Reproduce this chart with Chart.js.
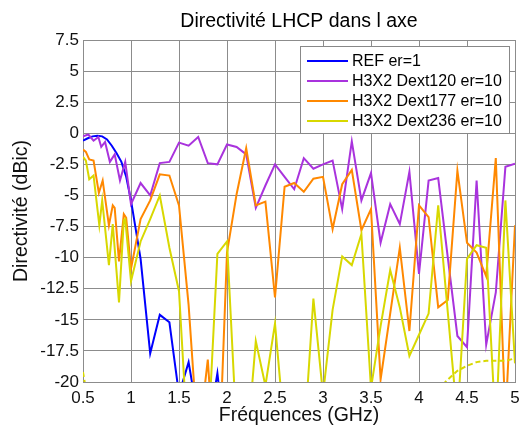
<!DOCTYPE html>
<html><head><meta charset="utf-8">
<script src="https://cdn.jsdelivr.net/npm/chart.js@4/dist/chart.umd.min.js"></script>
<style>html,body{margin:0;padding:0;background:#fff;}#wrap{width:519px;height:427px;}</style>
</head><body><div id="wrap"><canvas id="c" width="519" height="427"></canvas></div>
<script>
const titleText = 'Directivité LHCP dans l axe';
const xTitle = 'Fréquences (GHz)';
const yTitle = 'Directivité (dBic)';
const seriesNames = ['REF er=1', 'H3X2 Dext120 er=10', 'H3X2 Dext177 er=10', 'H3X2 Dext236 er=10'];
const seriesColors = ['#0000ff', '#a933dd', '#ff8800', '#d8d800'];
const xTicks = [0.5, 1, 1.5, 2, 2.5, 3, 3.5, 4, 4.5, 5];
const yTicks = [7.5, 5, 2.5, 0, -2.5, -5, -7.5, -10, -12.5, -15, -17.5, -20];

const refFreq = [0.5,0.55,0.6,0.65,0.7,0.75,0.8,0.85,0.9,0.95,1.0,1.1,1.2,1.3,1.4,1.5,1.6,1.7,1.8,1.9,2.0];
const refVals = [-0.6,-0.4,-0.25,-0.2,-0.25,-0.5,-1.0,-1.6,-2.3,-3.5,-5.4,-10.1,-17.7,-14.6,-15.2,-21,-18.4,-23,-24,-19.3,-26];

const d120Freq = [0.5,0.555,0.61,0.66,0.69,0.73,0.78,0.83,0.885,0.94,1.0,1.1,1.2,1.3,1.4,1.5,1.6,1.7,1.8,1.9,2.0,2.1,2.2,2.3,2.4,2.5,2.6,2.7,2.8,2.9,3.0,3.1,3.2,3.3,3.4,3.5,3.6,3.7,3.8,3.9,4.0,4.1,4.2,4.3,4.4,4.5,4.6,4.7,4.8,4.9,5.0];
const d120Vals = [-0.25,-0.1,-0.6,-0.3,-1.1,-0.7,-2.3,-1.7,-3.8,-2.3,-5.7,-4.0,-5.0,-2.4,-2.3,-0.75,-1.0,-0.3,-2.4,-2.5,-0.9,-1.1,-1.7,-6.0,-4.2,-2.5,-3.5,-4.5,-2.0,-2.85,-2.5,-2.2,-6.1,-0.65,-5.4,-3.2,-8.8,-5.7,-7.3,-3.1,-11.3,-3.8,-3.6,-10.0,-16.3,-17.2,-3.8,-17.0,-12.8,-2.7,-2.45];

const d177Freq = [0.5,0.53,0.565,0.61,0.665,0.705,0.77,0.81,0.83,0.875,0.925,0.95,1.0,1.1,1.2,1.3,1.4,1.5,1.6,1.7,1.8,1.9,2.0,2.1,2.2,2.3,2.4,2.5,2.6,2.7,2.8,2.9,3.0,3.1,3.2,3.3,3.4,3.5,3.6,3.7,3.8,3.9,4.0,4.1,4.2,4.3,4.4,4.5,4.6,4.7,4.8,4.9,5.0];
const d177Vals = [-1.3,-1.5,-2.1,-2.2,-4.8,-3.8,-7.4,-5.8,-6.0,-10.3,-6.5,-6.8,-10.9,-6.9,-5.4,-3.3,-3.4,-5.8,-13.8,-25,-18.2,-30,-9.6,-4.9,-1.2,-5.8,-5.5,-13.2,-4.3,-4.0,-4.7,-3.65,-3.5,-7.7,-4.1,-2.95,-7.8,-6.1,-19.8,-14.5,-9.2,-15.9,-5.8,-6.75,-14.0,-13.4,-3.0,-8.8,-9.6,-11.5,-2.0,-23,-7.4];

const d236Freq = [0.5,0.53,0.565,0.61,0.67,0.7,0.77,0.81,0.875,0.925,0.94,1.0,1.1,1.2,1.3,1.4,1.5,1.6,1.7,1.8,1.9,2.0,2.1,2.2,2.3,2.4,2.5,2.6,2.7,2.8,2.9,3.0,3.1,3.2,3.3,3.4,3.5,3.6,3.7,3.8,3.9,4.0,4.1,4.2,4.3,4.4,4.5,4.6,4.7,4.8,4.9,5.0];
const d236Vals = [-1.9,-2.2,-3.7,-3.4,-7.4,-5.4,-10.6,-7.3,-13.6,-7.0,-6.9,-11.9,-8.7,-6.9,-5.0,-9.2,-12.7,-26,-28,-25,-9.7,-8.7,-24,-26,-16.7,-20.3,-15.3,-24,-26,-25,-13.3,-21,-14.2,-9.9,-10.6,-8.1,-20.5,-15.5,-11.0,-14.0,-17.9,-16.2,-14.5,-5.8,-14.4,-23,-10.1,-9.0,-9.2,-24,-5.4,-18.5];

const dashFreq = [0.5,0.55,0.6,4.1,4.2,4.3,4.4,4.5,4.6,4.7,4.8,4.9,5.0];
const dashVals = [-19.2,-21.5,-24,-22,-20.6,-19.8,-19.1,-18.7,-18.4,-18.3,-18.3,-18.3,-18.1];

function pts(f, v) { return f.map((x, i) => ({x: x, y: v[i]})); }

const FONT = '"Liberation Sans", Arial, Helvetica, sans-serif';

const overlay = {
  id: 'overlay',
  afterDraw(chart) {
    const ctx = chart.ctx;
    const ca = chart.chartArea;
    ctx.save();
    ctx.fillStyle = '#000';
    ctx.font = '19.5px ' + FONT;
    ctx.textAlign = 'center';
    ctx.textBaseline = 'alphabetic';
    ctx.fillText(titleText, (ca.left + ca.right) / 2, 27);
    const bx = 300.5, by = 46.5, bw = 209, bh = 87;
    ctx.fillStyle = '#fff';
    ctx.fillRect(bx, by, bw, bh);
    ctx.strokeStyle = '#888';
    ctx.lineWidth = 1;
    ctx.strokeRect(bx, by, bw, bh);
    ctx.font = '16px ' + FONT;
    ctx.textAlign = 'left';
    ctx.textBaseline = 'middle';
    for (let i = 0; i < seriesNames.length; i++) {
      const yy = 61 + i * 20;
      ctx.strokeStyle = seriesColors[i];
      ctx.lineWidth = 2;
      ctx.beginPath();
      ctx.moveTo(307, yy);
      ctx.lineTo(348, yy);
      ctx.stroke();
      ctx.fillStyle = '#000';
      ctx.fillText(seriesNames[i], 352, yy + 1);
    }
    ctx.restore();
  }
};

const fmt = v => String(+(+v).toFixed(2));

new Chart(document.getElementById('c'), {
  type: 'line',
  data: {
    datasets: [
      {label: seriesNames[0], data: pts(refFreq, refVals), borderColor: seriesColors[0], order: 3},
      {label: seriesNames[1], data: pts(d120Freq, d120Vals), borderColor: seriesColors[1], order: 2},
      {label: seriesNames[2], data: pts(d177Freq, d177Vals), borderColor: seriesColors[2], order: 1},
      {label: seriesNames[3], data: pts(d236Freq, d236Vals), borderColor: seriesColors[3], order: 0},
      {label: '', data: pts(dashFreq, dashVals), borderColor: seriesColors[3], borderDash: [5, 3], order: 0}
    ]
  },
  options: {
    responsive: false,
    animation: false,
    devicePixelRatio: 1,
    elements: {
      line: {borderWidth: 2, tension: 0, fill: false},
      point: {radius: 0, hoverRadius: 0}
    },
    layout: {padding: {left: 0, right: 4, top: 40, bottom: 0}},
    plugins: {legend: {display: false}, tooltip: {enabled: false}, title: {display: false}},
    scales: {
      x: {
        type: 'linear', min: 0.5, max: 5,
        afterBuildTicks: s => { s.ticks = xTicks.map(v => ({value: v})); },
        afterFit: s => { s.height = 45; s.paddingLeft = 0; s.paddingRight = 0; },
        grid: {color: '#8c8c8c', lineWidth: 1, drawTicks: false},
        border: {color: '#8c8c8c', width: 1},
        ticks: {color: '#111', padding: 6, maxRotation: 0, autoSkip: false, font: {family: FONT, size: 17}, callback: fmt},
        title: {display: true, text: xTitle, color: '#111', font: {family: FONT, size: 19.5}, padding: {top: 0, bottom: 0}}
      },
      y: {
        type: 'linear', min: -20, max: 7.5,
        afterBuildTicks: s => { s.ticks = yTicks.slice().reverse().map(v => ({value: v})); },
        afterFit: s => { s.width = 83; s.paddingTop = 0; s.paddingBottom = 0; },
        grid: {color: '#8c8c8c', lineWidth: 1, drawTicks: false},
        border: {color: '#8c8c8c', width: 1},
        ticks: {color: '#111', padding: 4, autoSkip: false, font: {family: FONT, size: 17}, callback: fmt},
        title: {display: true, text: yTitle, color: '#111', font: {family: FONT, size: 19.5}, padding: {top: 10.3, bottom: 0}}
      }
    }
  },
  plugins: [overlay]
});
</script>
</body></html>
